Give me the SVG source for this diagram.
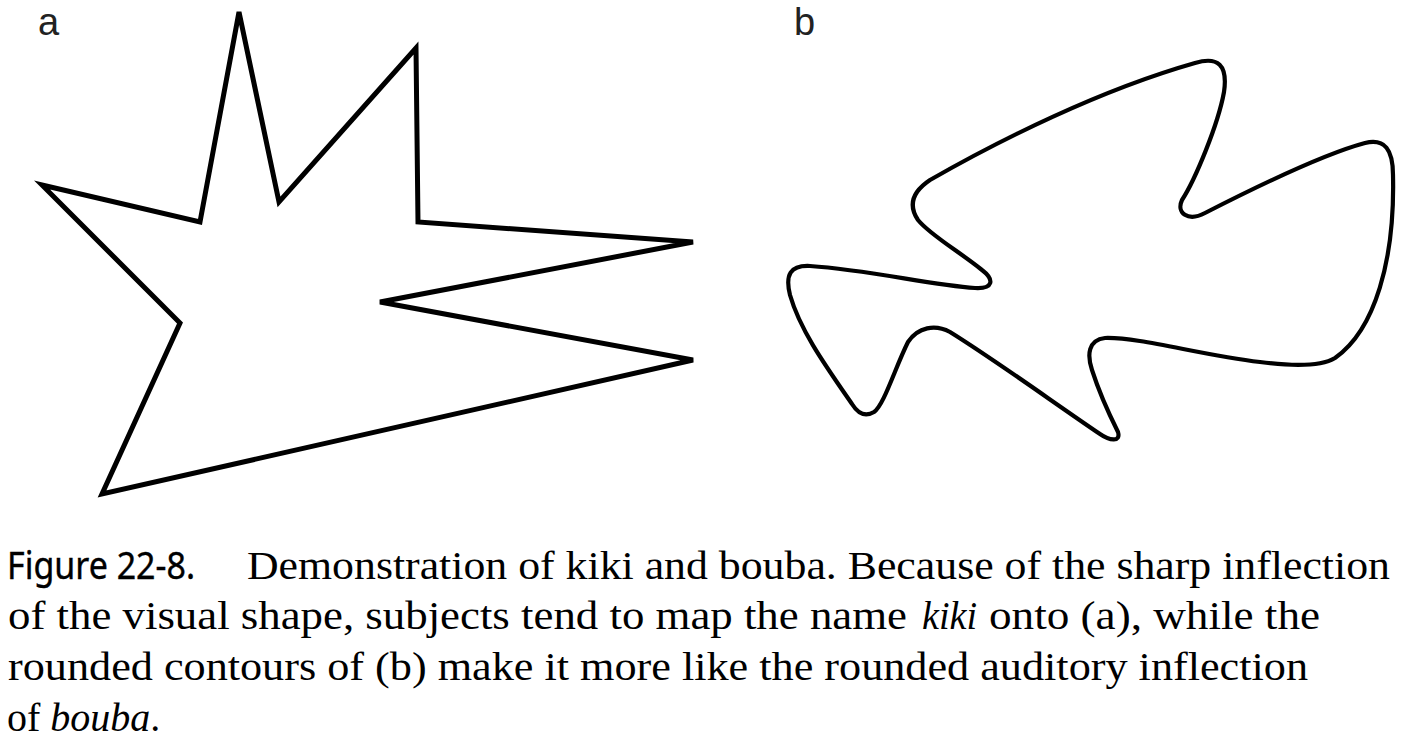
<svg xmlns="http://www.w3.org/2000/svg" width="1401" height="738" viewBox="0 0 1401 738">
  <style>
    .shape { fill: none; stroke: #000; stroke-linejoin: miter; }
    .label { font-family: "Liberation Sans", Arial, sans-serif; font-size: 38px; fill: #222; }
    .cap { font-family: "Liberation Serif", "Times New Roman", serif; font-size: 40px; fill: #000; }
    .capsans { font-family: "Noto Sans", "Open Sans", sans-serif; font-size: 38px; fill: #000; stroke: #000; stroke-width: 0.4px; }
    .it { font-style: italic; }
  </style>
  <rect width="1401" height="738" fill="#fff"/>

  <g id="panel-a">
    <text class="label" x="38" y="35">a</text>
    <polygon id="kiki-shape" class="shape" stroke-width="5"
      points="239,12 279,202 416,48 418,222 693,242 380,302 693,360 102,494 180,323 42,185 200,222"/>
  </g>

  <g id="panel-b">
    <text class="label" x="794" y="35">b</text>
    <path id="bouba-shape" class="shape" stroke-width="4.2" stroke-linejoin="round"
      d="M 930 180
         C 1000 140, 1100 90, 1195 63
         C 1218 56, 1228 65, 1224 92
         C 1218 125, 1195 180, 1182 200
         C 1176 213, 1188 222, 1205 213
         C 1250 190, 1320 155, 1365 143
         C 1385 138, 1393 150, 1393 175
         C 1395 260, 1375 330, 1335 358
         C 1320 367, 1290 366, 1260 362
         C 1200 355, 1140 337, 1105 338
         C 1088 340, 1087 355, 1092 370
         C 1100 395, 1112 420, 1118 432
         C 1121 442, 1110 441, 1100 434
         C 1050 400, 995 360, 950 332
         C 935 324, 918 327, 908 342
         C 895 368, 884 405, 874 412
         C 864 418, 857 412, 852 404
         C 825 365, 800 330, 790 295
         C 785 275, 790 265, 810 266
         C 870 270, 930 285, 975 288
         C 993 289, 995 280, 982 270
         C 960 252, 930 235, 918 220
         C 908 205, 912 192, 930 180 Z"/>
  </g>

  <g id="caption">
    <text class="capsans" x="7" y="579" textLength="188" lengthAdjust="spacingAndGlyphs">Figure 22-8.</text>
    <text class="cap" x="247" y="579" textLength="1143" lengthAdjust="spacingAndGlyphs">Demonstration of kiki and bouba. Because of the sharp inflection</text>
    <text class="cap" x="8" y="629" textLength="899" lengthAdjust="spacingAndGlyphs">of the visual shape, subjects tend to map the name</text>
    <text class="cap it" x="922" y="629" textLength="55" lengthAdjust="spacingAndGlyphs">kiki</text>
    <text class="cap" x="989" y="629" textLength="331" lengthAdjust="spacingAndGlyphs">onto (a), while the</text>
    <text class="cap" x="8" y="680" textLength="1300" lengthAdjust="spacingAndGlyphs">rounded contours of (b) make it more like the rounded auditory inflection</text>
    <text class="cap" x="7" y="731">of <tspan class="it">bouba</tspan>.</text>
  </g>
</svg>
